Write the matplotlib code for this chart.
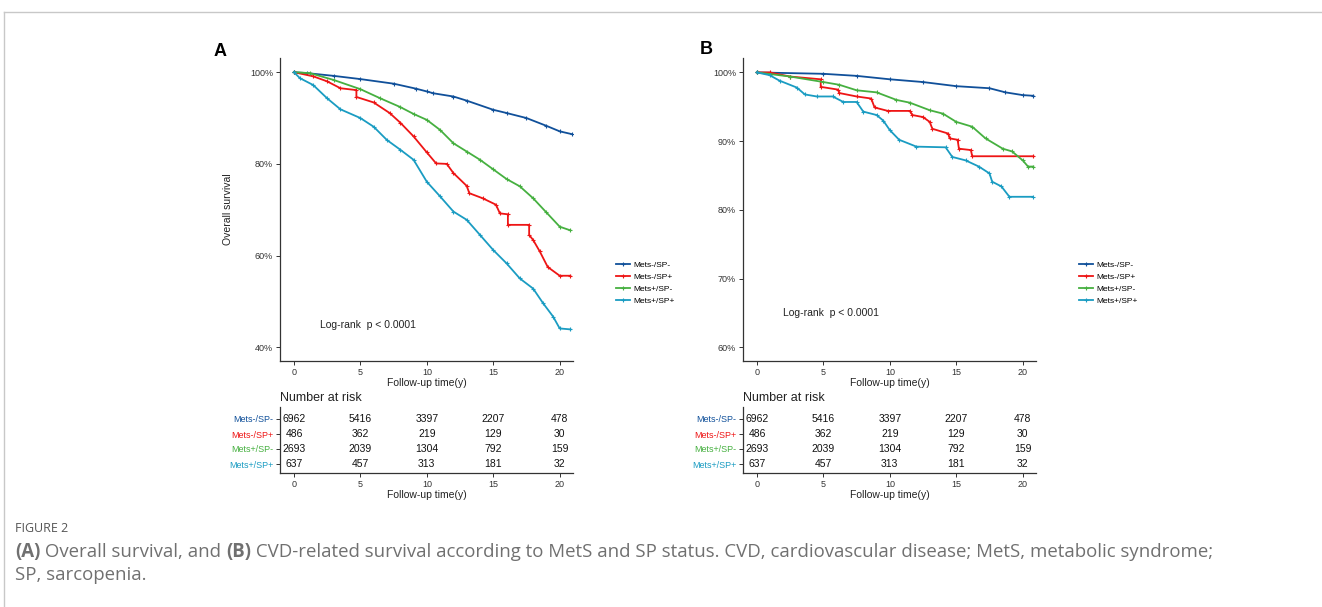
import matplotlib.pyplot as plt
from matplotlib.lines import Line2D

# groups / colours
groups = ['Mets-/SP-', 'Mets-/SP+', 'Mets+/SP-', 'Mets+/SP+']
colors = ['#10509A', '#EE1515', '#46B040', '#1A9CC2']

# panel A: overall survival (time in years, survival in %)
a_blue_t = [0, 1, 3, 5, 7.5, 9.2, 10, 10.5, 12, 13, 15, 16, 17.5, 19, 20, 20.9]
a_blue_s = [100, 99.8, 99.2, 98.5, 97.5, 96.4, 95.8, 95.4, 94.7, 93.8, 91.8, 91.1, 90.0, 88.3, 87.1, 86.5]
a_red_t = [0, 1.45, 2.5, 3.5, 4.7, 4.7, 6, 7.2, 8, 9, 10, 10.7, 11.5, 12, 13, 13.2, 14.2, 15.2, 15.5,
           16.1, 16.1, 17.7, 17.7, 18, 18.5, 19.1, 20, 20.8]
a_red_s = [100, 99.1, 98.0, 96.5, 96.1, 94.6, 93.4, 91.1, 89.0, 86.0, 82.5, 80.1, 80.0, 78.0, 75.2, 73.6,
           72.5, 71.1, 69.2, 69.0, 66.7, 66.7, 64.5, 63.4, 60.9, 57.5, 55.6, 55.6]
a_green_t = [0, 1.2, 3, 5, 6.5, 8, 9, 10, 11, 12, 13, 14, 15, 16, 17, 18, 19, 20, 20.8]
a_green_s = [100, 99.8, 98.3, 96.3, 94.3, 92.4, 90.9, 89.6, 87.4, 84.5, 82.7, 80.9, 78.8, 76.7, 75.1,
             72.5, 69.4, 66.3, 65.5]
a_cyan_t = [0, 0.45, 1.45, 2.5, 3.5, 5, 6, 7, 8, 9, 10, 11, 12, 13, 14, 15, 16, 17, 18, 18.75, 19.5,
            20, 20.8]
a_cyan_s = [100, 98.7, 97.2, 94.3, 91.9, 90.0, 88.1, 85.2, 83.1, 80.9, 76.1, 72.9, 69.6, 67.8, 64.5,
            61.2, 58.3, 55.0, 52.8, 49.6, 46.7, 44.1, 43.9]

# panel B: CVD-related survival
b_blue_t = [0, 5, 7.5, 10, 12.5, 15, 17.5, 18.7, 20, 20.8]
b_blue_s = [100, 99.8, 99.5, 99.0, 98.6, 98.0, 97.7, 97.1, 96.7, 96.6]
b_red_t = [0, 0.95, 2.5, 4.8, 4.8, 6.1, 6.2, 7.5, 8.6, 8.85, 9.85, 11.5, 11.7, 12.5, 13, 13.2, 14.4,
           14.5, 15.1, 15.2, 16.1, 16.2, 20.8]
b_red_s = [100, 100, 99.4, 99.0, 97.9, 97.5, 97.0, 96.5, 96.2, 94.9, 94.4, 94.4, 93.8, 93.5, 92.8,
           91.8, 91.1, 90.4, 90.2, 88.9, 88.7, 87.8, 87.8]
b_green_t = [0, 2.5, 5, 6.2, 7.5, 9, 10.5, 11.5, 13, 14, 15, 16.2, 17.2, 18.5, 19.2, 20, 20.4, 20.8]
b_green_s = [100, 99.4, 98.6, 98.2, 97.4, 97.1, 96.0, 95.6, 94.5, 94.0, 92.8, 92.1, 90.4, 88.9, 88.5,
             87.2, 86.3, 86.3]
b_cyan_t = [0, 0.95, 1.7, 3, 3.6, 4.5, 5.7, 6.5, 7.5, 8, 9, 9.5, 10, 10.7, 12, 14.2, 14.7, 15.7, 16.7,
            17.5, 17.7, 18.4, 19, 20.75]
b_cyan_s = [100, 99.6, 98.8, 97.8, 96.8, 96.5, 96.5, 95.7, 95.7, 94.3, 93.8, 93.0, 91.6, 90.2, 89.2,
            89.1, 87.7, 87.2, 86.3, 85.3, 84.1, 83.4, 81.9, 81.9]

# number at risk (same table for both panels)
risk_times = [0, 5, 10, 15, 20]
risk_counts = [
    [6962, 5416, 3397, 2207, 478],
    [486, 362, 219, 129, 30],
    [2693, 2039, 1304, 792, 159],
    [637, 457, 313, 181, 32],
]

W, H = 1322, 607
fig = plt.figure(figsize=(W / 100, H / 100), dpi=100)
plt.rcParams['font.family'] = ['Liberation Sans', 'DejaVu Sans']


def fr(x0, y0, x1, y1):
    # pixel box -> figure fraction rect
    return [x0 / W, 1 - y1 / H, (x1 - x0) / W, (y1 - y0) / H]


def style_axes(ax):
    for s in ['top', 'right']:
        ax.spines[s].set_visible(False)
    for s in ['left', 'bottom']:
        ax.spines[s].set_linewidth(0.9)
        ax.spines[s].set_color('#333333')
    ax.tick_params(length=3, width=0.7, color='#333333', labelsize=6.5, labelcolor='#333333', pad=2)


def km_panel(rect, curves, ylim, yticks, ylabel, letter, letter_xy, ptxt_xy, leg_xy):
    ax = fig.add_axes(rect)
    for (t, s), c, g in zip(curves, colors, groups):
        ax.plot(t, s, color=c, lw=1.3, marker='+', ms=3.5, mew=0.8, label=g)
    ax.set_xlim(-1.05, 21.0)
    ax.set_ylim(*ylim)
    ax.set_xticks([0, 5, 10, 15, 20])
    ax.set_yticks(yticks)
    ax.set_yticklabels([f'{v}%' for v in yticks])
    style_axes(ax)
    ax.set_xlabel('Follow-up time(y)', fontsize=7.5, labelpad=1, color='#222222')
    if ylabel:
        ax.set_ylabel(ylabel, fontsize=7.5, labelpad=12, color='#222222')
    ax.text(ptxt_xy[0], ptxt_xy[1], 'Log-rank  p < 0.0001', fontsize=7.5, color='#222222',
            va='center', ha='left')
    fig.text(letter_xy[0] / W, 1 - letter_xy[1] / H, letter, fontsize=13, fontweight='bold',
             va='center', ha='left')
    ax.legend(loc='center left', bbox_to_anchor=(leg_xy[0] / W, 1 - leg_xy[1] / H),
              bbox_transform=fig.transFigure, frameon=False, fontsize=6, handlelength=1.6,
              labelspacing=0.52, handletextpad=0.5, borderpad=0)
    return ax


def risk_table(rect, title_xy):
    ax = fig.add_axes(rect)
    for i, row in enumerate(risk_counts):
        y = 4 - i
        for t, n in zip(risk_times, row):
            ax.text(t, y, str(n), ha='center', va='center', fontsize=7.5, color='#111111')
    ax.set_xlim(-1.05, 21.0)
    ax.set_ylim(0.4, 4.8)
    ax.set_xticks(risk_times)
    ax.set_yticks([4, 3, 2, 1])
    ax.set_yticklabels(groups)
    style_axes(ax)
    for lab, c in zip(ax.get_yticklabels(), colors):
        lab.set_color(c)
    ax.set_xlabel('Follow-up time(y)', fontsize=7.5, labelpad=1, color='#222222')
    fig.text(title_xy[0] / W, 1 - title_xy[1] / H, 'Number at risk', fontsize=9, va='center',
             ha='left', color='#222222')
    return ax


curves_a = [(a_blue_t, a_blue_s), (a_red_t, a_red_s), (a_green_t, a_green_s), (a_cyan_t, a_cyan_s)]
curves_b = [(b_blue_t, b_blue_s), (b_red_t, b_red_s), (b_green_t, b_green_s), (b_cyan_t, b_cyan_s)]

km_panel(fr(280, 58, 573, 361), curves_a, (37.0, 103.1), [40, 60, 80, 100], 'Overall survival',
         'A', (214, 52), (1.95, 44.9), (612, 283))
km_panel(fr(743, 58, 1036, 361), curves_b, (58.0, 102.1), [60, 70, 80, 90, 100], None,
         'B', (700, 50), (1.93, 65.0), (1075, 283))
risk_table(fr(280, 407, 573, 473), (280, 398))
risk_table(fr(743, 407, 1036, 473), (743, 398))

# frame of the figure box
fig.add_artist(Line2D([4 / W, 1], [1 - 12 / H, 1 - 12 / H], color='#c8c8c8', lw=1))
fig.add_artist(Line2D([4 / W, 4 / W], [0, 1 - 12 / H], color='#c8c8c8', lw=1))

# caption
cap_font = ['Open Sans', 'DejaVu Sans']
fig.text(15 / W, 1 - 528 / H, 'FIGURE 2', fontsize=9, color='#555555', family=cap_font, va='center')

fig.canvas.draw()
renderer = fig.canvas.get_renderer()


def rich_line(x_px, y_px, pieces):
    x = x_px
    for txt, bold in pieces:
        t = fig.text(x / W, 1 - y_px / H, txt, fontsize=13.4, color='#707070', family=cap_font,
                     fontweight='bold' if bold else 'normal', va='center', ha='left')
        bb = t.get_window_extent(renderer=renderer)
        x += bb.width


rich_line(15, 552, [('(A)', True), (' Overall survival, and ', False), ('(B)', True),
                    (' CVD-related survival according to MetS and SP status. CVD, cardiovascular '
                     'disease; MetS, metabolic syndrome;', False)])
rich_line(15, 575, [('SP, sarcopenia.', False)])

fig.savefig('out.png', dpi=100)
